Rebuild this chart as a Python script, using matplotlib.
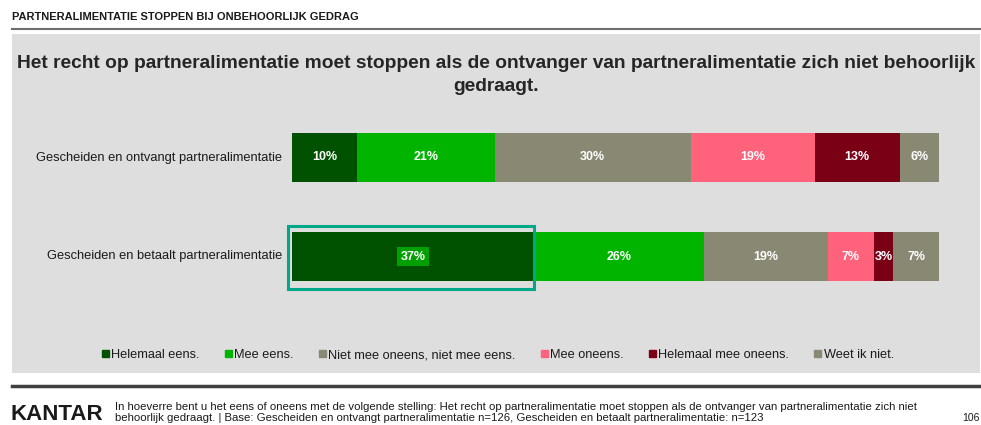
import matplotlib.pyplot as plt
from matplotlib.patches import Rectangle

plt.rcParams['font.family'] = ['Liberation Sans', 'DejaVu Sans']

# data
groepen = ['Gescheiden en ontvangt partneralimentatie',
           'Gescheiden en betaalt partneralimentatie']
antwoorden = ['Helemaal eens.', 'Mee eens.', 'Niet mee oneens, niet mee eens.',
              'Mee oneens.', 'Helemaal mee oneens.', 'Weet ik niet.']
ontvangt = [10, 21, 30, 19, 13, 6]
betaalt = [37, 26, 19, 7, 3, 7]
kleuren = ['#005200', '#00B400', '#898873', '#FF627B', '#7A0015', '#898873']

W, H = 981, 425
fig = plt.figure(figsize=(W / 100, H / 100), dpi=100)

def fx(px):
    return px / W

def fy(py):
    return 1 - py / H

# grijs vlak en lijnen
fig.patches.append(Rectangle((fx(12), fy(373)), fx(968), 339 / H, transform=fig.transFigure,
                             facecolor='#DEDEDE', edgecolor='none', zorder=-5))
fig.add_artist(plt.Line2D([fx(12), fx(980)], [fy(29), fy(29)], color='#6E6E6E', lw=1.5))
fig.add_artist(plt.Line2D([fx(12), fx(980)], [fy(386), fy(386)], color='#404040', lw=2.5))

fig.text(fx(12), fy(17), 'PARTNERALIMENTATIE STOPPEN BIJ ONBEHOORLIJK GEDRAG',
         fontsize=8, fontweight='bold', color='#1A1A1A', va='center')
fig.text(fx(496), fy(75),
         'Het recht op partneralimentatie moet stoppen als de ontvanger van partneralimentatie zich niet behoorlijk\ngedraagt.',
         fontsize=13.8, fontweight='bold', color='#262626', ha='center', va='center', linespacing=1.45)

ax = fig.add_axes([fx(292), fy(306), fx(939 - 292), 198 / H])
ax.set_xlim(0, 99)
ax.set_ylim(1.5, -0.5)
ax.axis('off')

for rij, waarden in enumerate([ontvangt, betaalt]):
    links = 0
    for i, v in enumerate(waarden):
        ax.barh(rij, v, left=links, height=0.495, color=kleuren[i], edgecolor='none')
        kw = dict(ha='center', va='center', color='white', fontsize=9, fontweight='bold')
        if rij == 1 and i == 0:
            kw['bbox'] = dict(boxstyle='square,pad=0.25', facecolor='#00A000', edgecolor='none')
        ax.text(links + v / 2, rij, f'{v}%', **kw)
        links += v
    ax.text(-1.5, rij, groepen[rij], ha='right', va='center', fontsize=9.3, color='#1A1A1A')

# markering rond de eerste waarde
ax.add_patch(Rectangle((-0.54, 1.333), betaalt[0] + 0.5, -0.646, fill=False,
                       edgecolor='#00A88A', lw=2.2, clip_on=False))

# legenda
handles = [Rectangle((0, 0), 1, 1, color=c) for c in kleuren]
fig.legend(handles, antwoorden, loc='center', bbox_to_anchor=(fx(498), fy(355)), ncol=6,
           frameon=False, fontsize=9.2, handlelength=0.55, handleheight=0.55,
           handletextpad=0.2, columnspacing=1.95, labelcolor='#1A1A1A')

# voettekst
fig.text(fx(10), fy(415), 'KANTAR', fontsize=16, fontweight='bold', color='#1A1A1A', va='center')
fig.text(fx(115), fy(412.5),
         'In hoeverre bent u het eens of oneens met de volgende stelling: Het recht op partneralimentatie moet stoppen als de ontvanger van partneralimentatie zich niet\n'
         'behoorlijk gedraagt. | Base: Gescheiden en ontvangt partneralimentatie n=126, Gescheiden en betaalt partneralimentatie: n=123',
         fontsize=8.2, color='#1A1A1A', va='center', linespacing=1.12)
fig.text(fx(962), fy(418), '106', fontsize=7.5, color='#1A1A1A', va='center')

fig.savefig('out.png', dpi=100)
